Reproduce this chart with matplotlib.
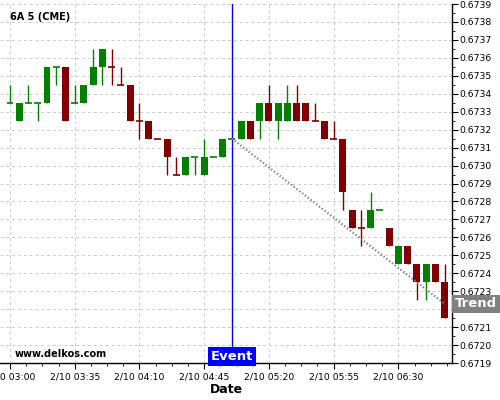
import numpy as np
import matplotlib
matplotlib.use('Agg')
import matplotlib.pyplot as plt
from matplotlib.ticker import MultipleLocator, FixedLocator

# 5-minute bars, 2/10 03:00 .. 06:55
times = ['03:00', '03:05', '03:10', '03:15', '03:20', '03:25', '03:30', '03:35',
         '03:40', '03:45', '03:50', '03:55', '04:00', '04:05', '04:10', '04:15',
         '04:20', '04:25', '04:30', '04:35', '04:40', '04:45', '04:50', '04:55',
         '05:00', '05:05', '05:10', '05:15', '05:20', '05:25', '05:30', '05:35',
         '05:40', '05:45', '05:50', '05:55', '06:00', '06:05', '06:10', '06:15',
         '06:20', '06:25', '06:30', '06:35', '06:40', '06:45', '06:50', '06:55']
opens = [0.67335, 0.67325, 0.67335, 0.67335, 0.67335, 0.67355, 0.67355, 0.67335,
         0.67335, 0.67345, 0.67355, 0.67355, 0.67345, 0.67345, 0.67325, 0.67325,
         0.67315, 0.67315, 0.67295, 0.67295, 0.67305, 0.67295, 0.67305, 0.67305,
         0.67315, 0.67315, 0.67325, 0.67325, 0.67335, 0.67325, 0.67325, 0.67335,
         0.67335, 0.67325, 0.67325, 0.67315, 0.67315, 0.67275, 0.67265, 0.67265,
         0.67275, 0.67265, 0.67245, 0.67255, 0.67245, 0.67235, 0.67245, 0.67235]
highs = [0.67345, 0.67335, 0.67345, 0.67335, 0.67355, 0.67355, 0.67355, 0.67345,
         0.67345, 0.67365, 0.67365, 0.67365, 0.67355, 0.67345, 0.67335, 0.67325,
         0.67315, 0.67315, 0.67305, 0.67305, 0.67305, 0.67315, 0.67305, 0.67315,
         0.67315, 0.67325, 0.67325, 0.67335, 0.67345, 0.67335, 0.67345, 0.67345,
         0.67335, 0.67335, 0.67325, 0.67325, 0.67315, 0.67275, 0.67275, 0.67285,
         0.67275, 0.67265, 0.67255, 0.67255, 0.67245, 0.67245, 0.67245, 0.67245]
lows = [0.67335, 0.67325, 0.67335, 0.67325, 0.67335, 0.67345, 0.67325, 0.67335,
        0.67335, 0.67345, 0.67345, 0.67345, 0.67345, 0.67325, 0.67315, 0.67315,
        0.67315, 0.67295, 0.67295, 0.67295, 0.67295, 0.67295, 0.67305, 0.67305,
        0.67315, 0.67315, 0.67315, 0.67315, 0.67325, 0.67315, 0.67325, 0.67325,
        0.67325, 0.67325, 0.67315, 0.67315, 0.67275, 0.67265, 0.67255, 0.67265,
        0.67275, 0.67255, 0.67245, 0.67245, 0.67225, 0.67225, 0.67235, 0.67215]
closes = [0.67335, 0.67335, 0.67335, 0.67335, 0.67355, 0.67355, 0.67325, 0.67335,
          0.67345, 0.67355, 0.67365, 0.67355, 0.67345, 0.67325, 0.67325, 0.67315,
          0.67315, 0.67305, 0.67295, 0.67305, 0.67305, 0.67305, 0.67305, 0.67315,
          0.67315, 0.67325, 0.67315, 0.67335, 0.67325, 0.67335, 0.67335, 0.67325,
          0.67325, 0.67325, 0.67315, 0.67315, 0.67285, 0.67265, 0.67265, 0.67275,
          0.67275, 0.67255, 0.67255, 0.67245, 0.67235, 0.67245, 0.67235, 0.67215]
# dojis drawn in red
red_doji = ['03:55', '04:00', '04:10', '04:20', '04:30', '05:45', '05:55', '06:10']

event_time = '05:00'
trend_start, trend_end = 0.67315, 0.67223
tick_times = ['03:00', '03:35', '04:10', '04:45', '05:20', '05:55', '06:30']

green = '#008000'
red = '#800000'

fig = plt.figure(figsize=(5, 4), dpi=100)
ax = fig.add_axes([0.0, 0.0925, 0.904, 0.8975])

x = np.arange(len(times))
w = 0.75
for i in x:
    o, h, l, c = opens[i], highs[i], lows[i], closes[i]
    if c > o:
        col = green
    elif c < o:
        col = red
    else:
        col = red if times[i] in red_doji else green
    ax.vlines(i, l, h, color=col, lw=1.0, zorder=3)
    if c == o:
        ax.hlines(o, i - w / 2, i + w / 2, color=col, lw=1.2, zorder=3)
    else:
        ax.bar(i, abs(c - o), bottom=min(o, c), width=w, color=col, zorder=3)

# event marker
ev = times.index(event_time)
ax.axvline(ev, color='blue', lw=1.0, zorder=4)
ax.text(ev, 0.6719, 'Event', color='white', fontsize=9.5, fontweight='bold',
        ha='center', va='bottom', zorder=6,
        bbox=dict(boxstyle='square,pad=0.2', fc='blue', ec='none'))

# trend line
ax.plot([ev, len(times) - 1], [trend_start, trend_end], color='gray', lw=1.6,
        ls=(0, (0.6, 1.0)), zorder=5)
ax.annotate('Trend', xy=(1.0, trend_end), xycoords=('axes fraction', 'data'),
            xytext=(2, 0), textcoords='offset points', color='white',
            fontsize=9.5, fontweight='bold', ha='left', va='center',
            annotation_clip=False,
            bbox=dict(boxstyle='square,pad=0.2', fc='gray', ec='none'))

ax.set_xlim(-1.08, 47.8)
ax.set_ylim(0.6719, 0.6739)

major = [times.index(t) for t in tick_times]
ax.xaxis.set_major_locator(FixedLocator(major))
ax.set_xticklabels(['2/10 ' + t for t in tick_times])
ax.xaxis.set_minor_locator(MultipleLocator(1.75))
ax.yaxis.set_major_locator(MultipleLocator(0.0001))
ax.yaxis.set_minor_locator(MultipleLocator(0.00005))
ax.yaxis.set_major_formatter(plt.FormatStrFormatter('%.4f'))
ax.yaxis.tick_right()
ax.tick_params(axis='both', which='major', labelsize=6.7, length=4, width=0.8, pad=1)
ax.tick_params(axis='x', which='major', pad=3)
ax.tick_params(axis='both', which='minor', length=2, width=0.6)

ax.grid(True, which='major', color='#cccccc', ls=(0, (3, 3)), lw=0.7)
ax.set_axisbelow(True)
for s in ['left', 'top']:
    ax.spines[s].set_visible(False)
ax.spines['bottom'].set_linewidth(1.0)
ax.spines['right'].set_linewidth(1.0)

ax.set_xlabel('Date', fontsize=9, fontweight='bold', labelpad=1)
ax.text(0.022, 0.965, '6A 5 (CME)', transform=ax.transAxes, fontsize=7,
        fontweight='bold', va='center', ha='left')
ax.text(0.032, 0.025, 'www.delkos.com', transform=ax.transAxes, fontsize=7,
        fontweight='bold', va='center', ha='left')

fig.savefig('out.png', dpi=100)
